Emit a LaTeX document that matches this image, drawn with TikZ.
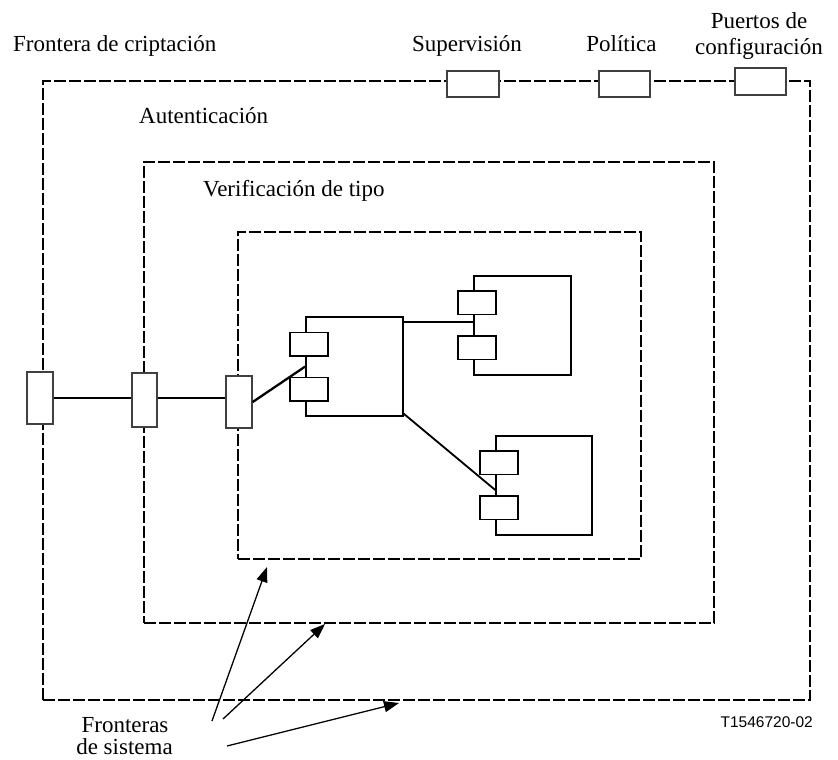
\documentclass[tikz,border=0pt]{standalone}
\usepackage{fontspec}
\setmainfont{Liberation Serif}
\newfontfamily\figsans{Liberation Sans}
\usetikzlibrary{arrows.meta}
\begin{document}
\begin{tikzpicture}[x=1pt,y=-1pt,
  txt/.style={font=\fontsize{23}{27}\selectfont, inner sep=0pt},
  boundary/.style={draw, line width=2.6pt, dash pattern=on 12pt off 3pt,
    inner sep=0pt},
  port/.style={draw=black!75, line width=1.4pt, fill=white, inner sep=0pt},
  comp/.style={draw, line width=1.5pt, inner sep=0pt,
    minimum width=97pt, minimum height=99pt},
  sub/.style={draw, line width=1.5pt, fill=white, inner sep=0pt,
    minimum width=38pt, minimum height=23.5pt},
  wire/.style={line width=2.3pt},
  pointer/.style={line width=1.3pt, -{Triangle[length=15pt,width=11pt]}}
]
\useasboundingbox (0,0) rectangle (838,760);

% nested boundaries
\node[boundary, minimum width=767pt, minimum height=619pt] (outer) at (426.5,390.5) {};
\node[boundary, minimum width=570pt, minimum height=461pt] (middle) at (429,392.5) {};
\node[boundary, minimum width=403pt, minimum height=327pt] (inner) at (439.5,395.5) {};

% labels
\node[txt, anchor=base west] (lcrypt) at (13,52) {Frontera de criptación};
\node[txt, anchor=base] (lsup) at (467,52) {Supervisión};
\node[txt, anchor=base] (lpol) at (621.5,52) {Política};
\node[txt, anchor=base] (lcfgA) at (759,29) {Puertos de};
\node[txt, anchor=base] (lcfgB) at (759,55) {configuración};
\node[txt, anchor=base west] (lauth) at (139,123) {Autenticación};
\node[txt, anchor=base west] (ltype) at (203,196) {Verificación de tipo};
\node[txt, anchor=base] (lsysA) at (125,732) {Fronteras};
\node[txt, anchor=base] (lsysB) at (124.5,754) {de sistema};
\node[inner sep=0pt, anchor=base east, font=\figsans\fontsize{15.5}{18}\selectfont]
  (fig) at (813,727) {T1546720-02};

% ports on the outer boundary
\node[port, minimum width=52pt, minimum height=26pt] (psup) at (473,84) {};
\node[port, minimum width=51pt, minimum height=26pt] (ppol) at (624.5,84) {};
\node[port, minimum width=51pt, minimum height=27pt] (pcfg) at (760.5,81.5) {};

% components
\node[comp] (c1) at (354.5,366.5) {};
\node[comp] (c2) at (522.5,325.5) {};
\node[comp, minimum width=96pt] (c3) at (544,485.5) {};

\node[sub] (c1a) at (309,344) {};
\node[sub] (c1b) at (309,389) {};
\node[sub] (c2a) at (477,302.5) {};
\node[sub] (c2b) at (477,347.5) {};
\node[sub] (c3a) at (499,462.5) {};
\node[sub] (c3b) at (499,507.5) {};

% ports on the left side of each boundary
\node[port, minimum width=26pt, minimum height=52pt] (p1) at (40,398) {};
\node[port, minimum width=25pt, minimum height=54pt] (p2) at (144.5,400) {};
\node[port, minimum width=26pt, minimum height=52pt] (p3) at (239,402) {};

% wiring
\draw[wire] (p1.east) -- (p1.east -| p2.west);
\draw[wire] (p1.east -| p2.east) -- (p1.east -| p3.west);
\draw[wire] (p3.east) -- (c1.west);
\coordinate (c1o) at ([yshift=-6pt]c1.north east);
\draw[wire] (c1o) -- (c1o -| c2.west);
\draw[line width=1.8pt] ([yshift=3pt]c1.south east) -- ([yshift=-4.5pt]c3.west);

% pointers to the boundaries
\coordinate (a1s) at (212,721);
\coordinate (a1e) at (267,567);
\coordinate (a2s) at (223,719);
\coordinate (a2e) at (325,624);
\coordinate (a3s) at (227,746);
\coordinate (a3e) at (399,703);
\draw[pointer] (a1s) -- (a1e);
\draw[pointer] (a2s) -- (a2e);
\draw[pointer] (a3s) -- (a3e);
\end{tikzpicture}
\end{document}
